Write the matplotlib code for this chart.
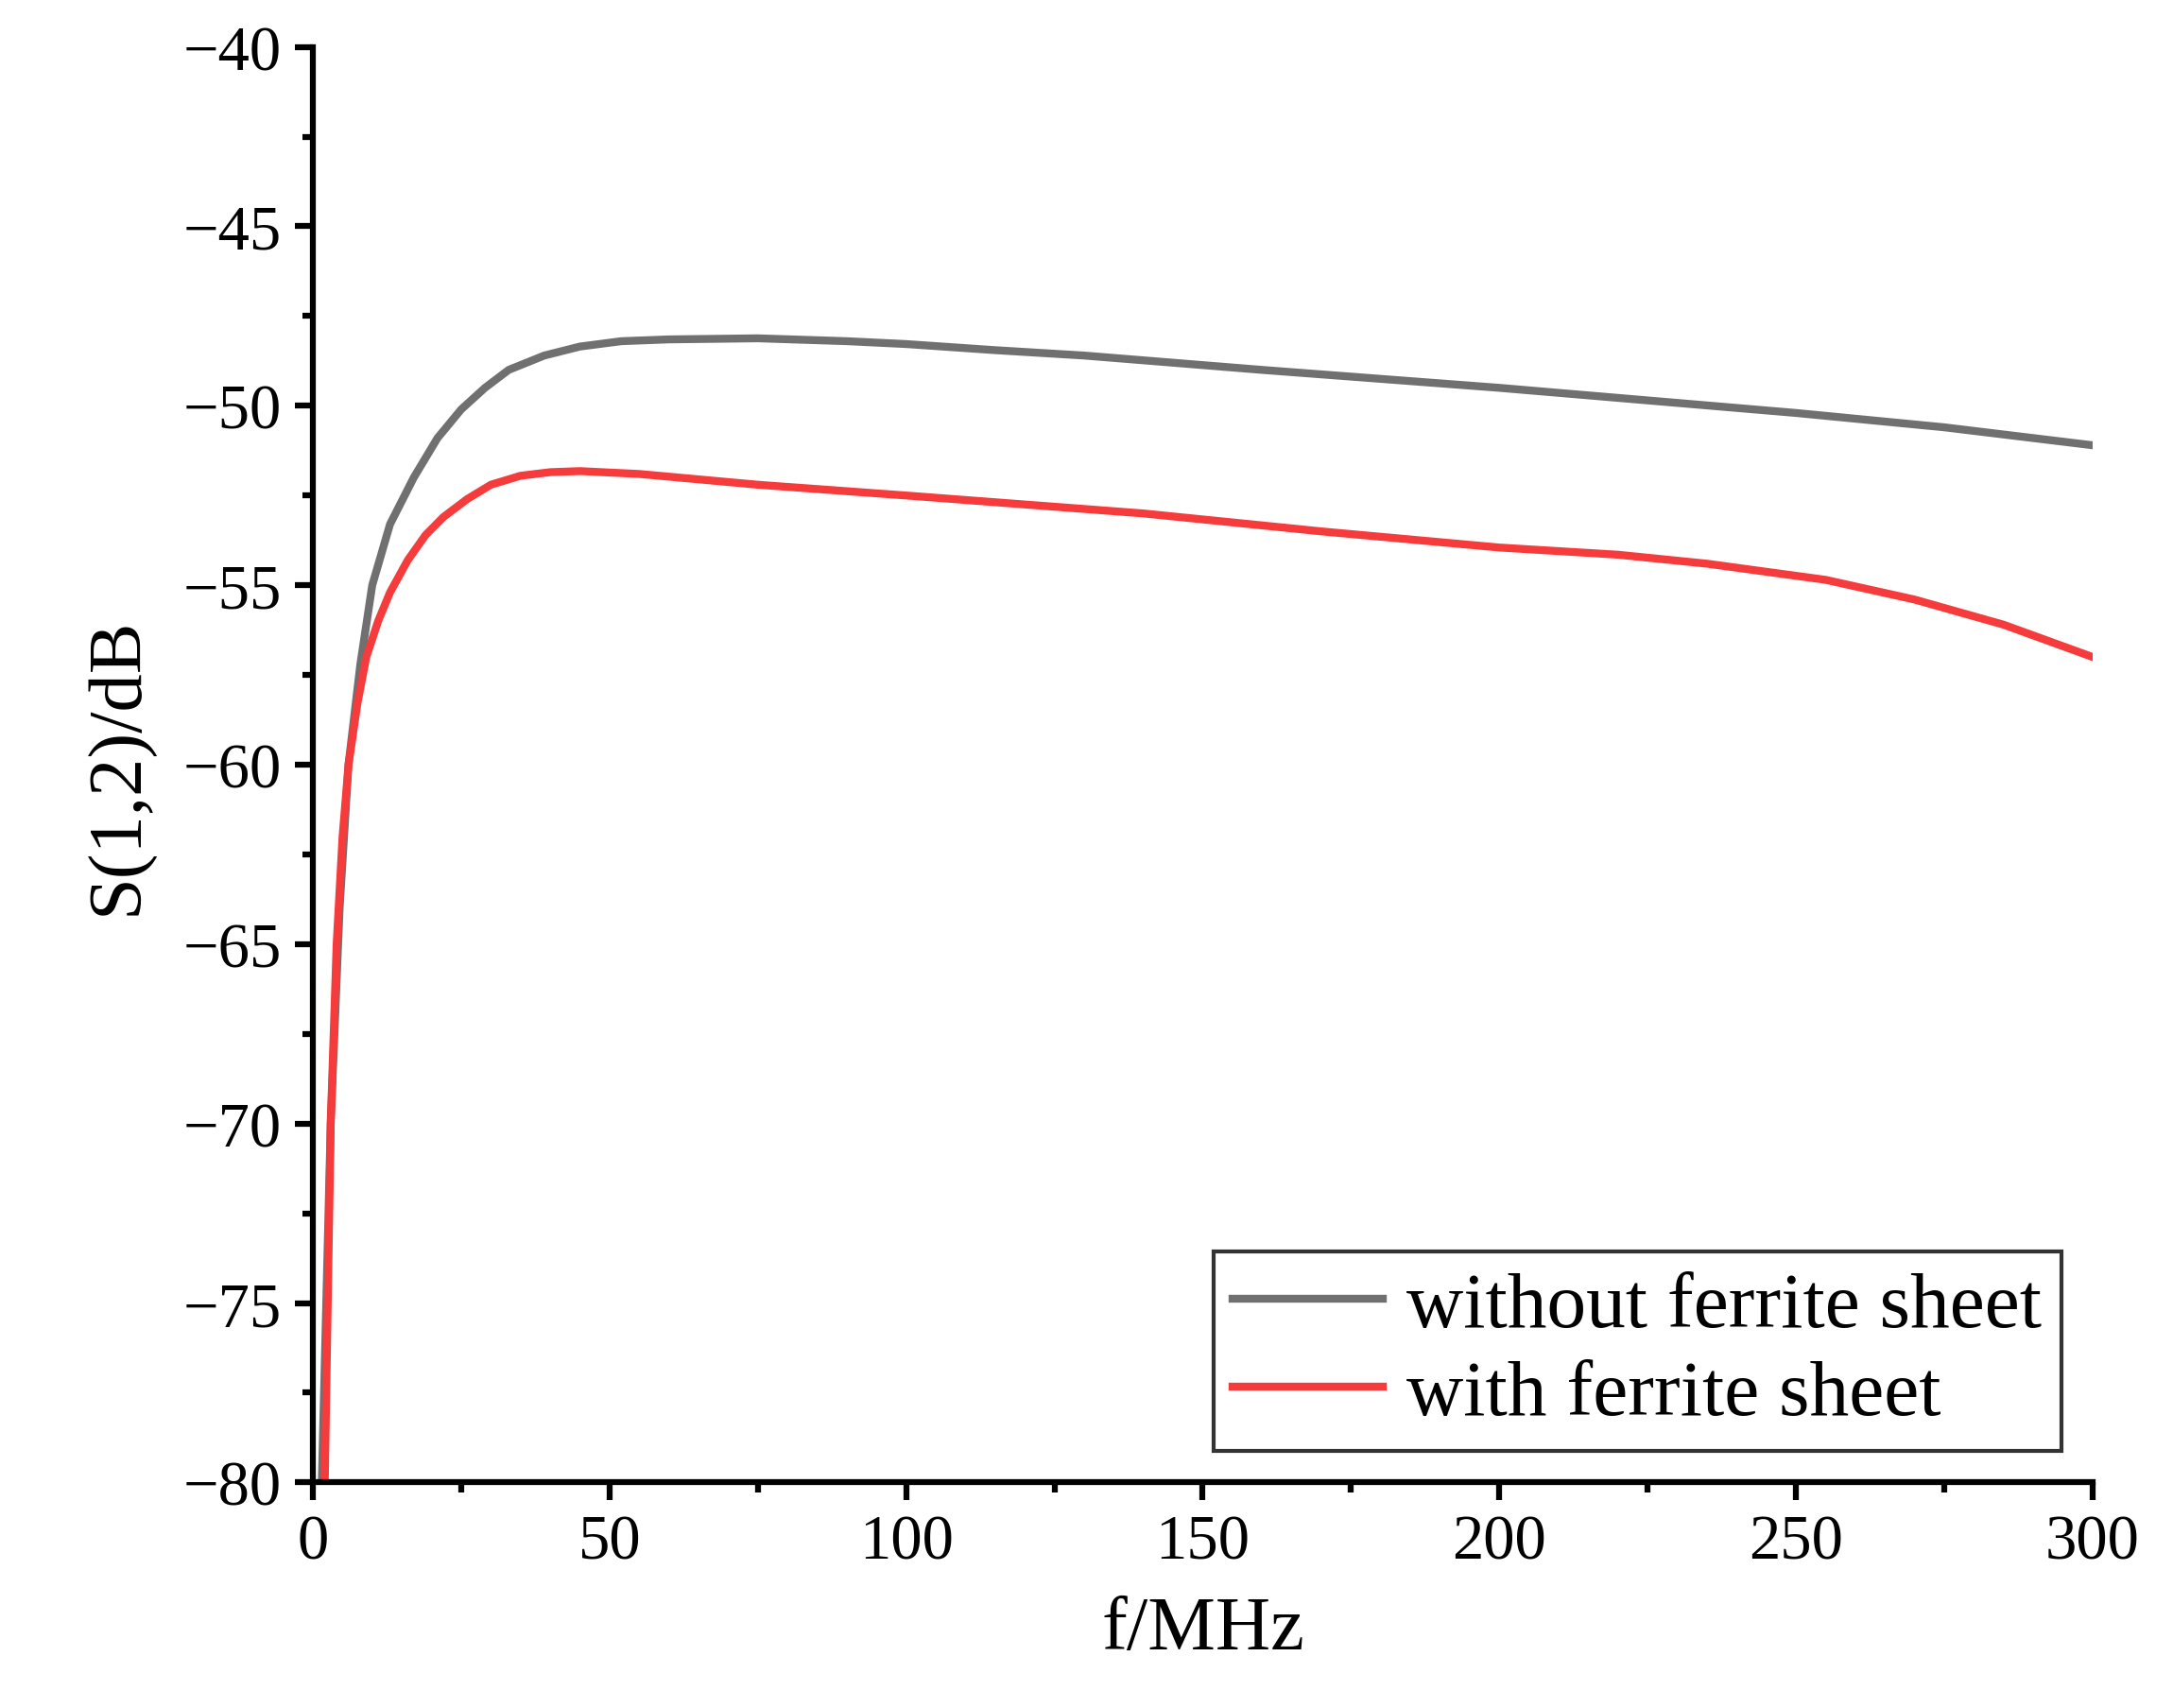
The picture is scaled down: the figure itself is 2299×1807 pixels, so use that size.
import matplotlib
matplotlib.use("Agg")
import matplotlib.pyplot as plt
from matplotlib.ticker import MultipleLocator

f_gray = [1.5, 3, 4.5, 6, 8, 10, 13, 17, 21, 25, 29, 33, 39, 45, 52, 60, 75, 90, 100, 115, 130, 145, 160, 180, 200, 225, 250, 275, 300]
s_gray = [-80, -70, -64, -60, -57.2, -55, -53.3, -52, -50.9, -50.1, -49.5, -49.0, -48.6, -48.35, -48.2, -48.15, -48.12, -48.2, -48.28, -48.45, -48.6, -48.8, -49.0, -49.25, -49.5, -49.85, -50.2, -50.6, -51.1]
f_red = [2, 3, 4, 5, 6, 7.5, 9, 11, 13, 16, 19, 22, 26, 30, 35, 40, 45, 55, 75, 100, 120, 140, 170, 200, 220, 235, 255, 270, 285, 300]
s_red = [-80, -70, -65, -62, -60, -58.3, -57, -56, -55.2, -54.3, -53.6, -53.1, -52.6, -52.2, -51.95, -51.85, -51.82, -51.9, -52.2, -52.5, -52.75, -53.0, -53.5, -53.95, -54.15, -54.4, -54.85, -55.4, -56.1, -57.0]

plt.rcParams['font.family'] = ['Liberation Serif', 'DejaVu Serif']
fig = plt.figure(figsize=(22.99, 18.08), dpi=100)
ax = fig.add_axes([0.144, 0.132, 0.819, 0.840])
ax.plot(f_gray, s_gray, color='#707070', lw=6, label='without ferrite sheet')
ax.plot(f_red, s_red, color='#f53b3b', lw=6, label='with ferrite sheet')
ax.set_xlim(0, 300)
ax.set_ylim(-80, -40)
ax.xaxis.set_major_locator(MultipleLocator(50))
ax.xaxis.set_minor_locator(MultipleLocator(25))
ax.yaxis.set_major_locator(MultipleLocator(5))
ax.yaxis.set_minor_locator(MultipleLocator(2.5))
for s in ['top', 'right']:
    ax.spines[s].set_visible(False)
for s in ['left', 'bottom']:
    ax.spines[s].set_linewidth(4.5)
ax.tick_params(which='major', length=14, width=4.5, labelsize=48, direction='out', pad=10)
ax.tick_params(which='minor', length=8, width=4.5, direction='out')
ax.set_xlabel('f/MHz', fontsize=58, labelpad=18)
ax.set_ylabel('S(1,2)/dB', fontsize=58, labelpad=22)
leg = ax.legend(loc='lower right', fontsize=60, frameon=True, fancybox=False,
                edgecolor='black', handlelength=1.9, handletextpad=0.3,
                borderpad=0.25, labelspacing=0.2, borderaxespad=0.4)
leg.get_frame().set_linewidth(3)
fig.savefig('out.png', dpi=100)
